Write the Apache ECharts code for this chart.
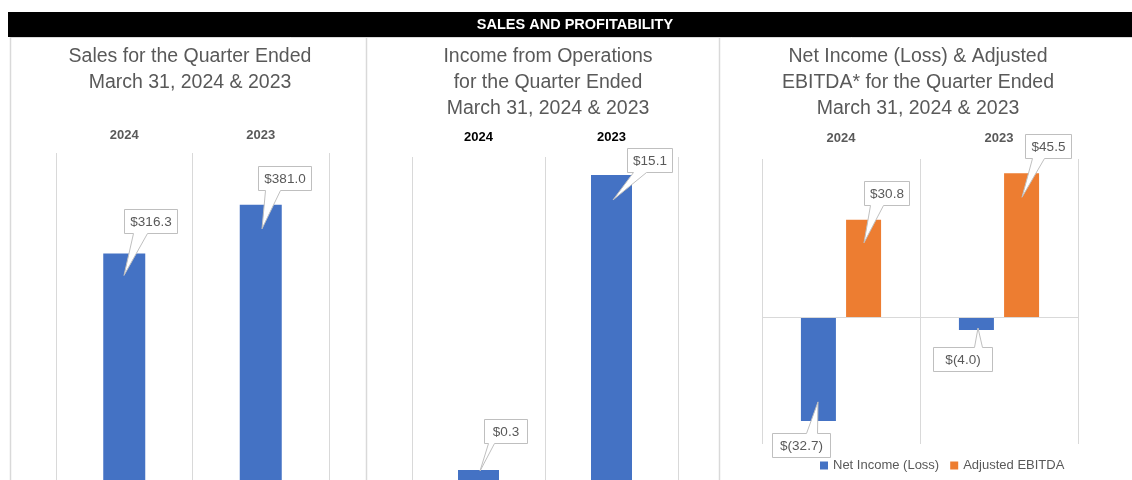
<!doctype html>
<html>
    <head>
        <meta charset="utf-8">
        <title>Sales and Profitability</title>
        <style>
            html, body { margin: 0; padding: 0; background: #fff; }
            #main { width: 1132px; height: 480px; }
        </style>
    </head>
    <body>
        <div id="main"></div>
        <script src="https://cdn.jsdelivr.net/npm/echarts@6/dist/echarts.min.js"></script>
        <script>
            // values (in $ millions)
            var years = ['2024', '2023'];
            var sales = [316.3, 381.0];
            var incomeOps = [0.3, 15.1];
            var netIncome = [-32.7, -4.0];
            var adjEbitda = [30.8, 45.5];

            var FONT = '"Liberation Sans", Arial, sans-serif';
            var GRAY = '#595959';
            var GRID_LINE = '#d9d9d9';

            // hand placed callout boxes, like the excel ones
            // tx/tin: tip of the wedge, bx: box left from bar centre, gap: box to bar end,
            // w: box width, b0/b1: wedge base on the box edge
            var salesCallouts = [
                { tx: 0, tin: 22, bx: 0, gap: 20, w: 53, b0: 9, b1: 23 },
                { tx: 1, tin: 24, bx: -3, gap: 15, w: 53, b0: 7, b1: 22 }
            ];
            var opsCallouts = [
                { tx: 1, tin: 1, bx: 5, gap: 27, w: 43, b0: 4, b1: 10 },
                { tx: 1, tin: 25, bx: 15, gap: 3, w: 45, b0: 6, b1: 19 }
            ];
            var netCallouts = [
                { tx: -1, tin: 19, bx: -47, gap: 12, w: 58, b0: 34, b1: 45 },
                { tx: 1, tin: 2, bx: -44, gap: 17, w: 59, b0: 41, b1: 49 }
            ];
            var ebitdaCallouts = [
                { tx: 0, tin: 23, bx: 0, gap: 15, w: 45, b0: 6, b1: 19 },
                { tx: 0, tin: 24, bx: 3, gap: 15, w: 46, b0: 7, b1: 19 }
            ];

            function money(v) {
                return v < 0 ? '$(' + Math.abs(v).toFixed(1) + ')' : '$' + v.toFixed(1);
            }

            function calloutSeries(gridIdx, values, shift, layout) {
                return {
                    type: 'custom',
                    xAxisIndex: gridIdx,
                    yAxisIndex: gridIdx,
                    clip: false,
                    silent: true,
                    z: 5,
                    data: values.map(function (v, i) { return [i, v]; }),
                    renderItem: function (params, api) {
                        var v = api.value(1);
                        var p = api.coord([api.value(0), v]);
                        var L = layout[params.dataIndex];
                        var h = 24;
                        var x = Math.round(p[0] + shift);
                        var y = p[1];
                        var tip = [x + L.tx, v >= 0 ? y + L.tin : y - L.tin];
                        var bx = x + L.bx + 0.5;
                        var by = Math.round(v >= 0 ? y - L.gap - h : y + L.gap) + 0.5;
                        var pts;
                        if (v >= 0) {
                            pts = [[bx, by], [bx + L.w, by], [bx + L.w, by + h], [bx + L.b1, by + h],
                                tip, [bx + L.b0, by + h], [bx, by + h]];
                        } else {
                            pts = [[bx, by], [bx + L.b0, by], tip, [bx + L.b1, by],
                                [bx + L.w, by], [bx + L.w, by + h], [bx, by + h]];
                        }
                        return {
                            type: 'group',
                            children: [{
                                type: 'polygon',
                                shape: { points: pts },
                                style: { fill: '#fff', stroke: '#bfbfbf', lineWidth: 1 }
                            }, {
                                type: 'text',
                                x: bx + L.w / 2,
                                y: by + h / 2 + 1,
                                style: {
                                    text: money(v),
                                    fill: GRAY,
                                    font: '13.5px ' + FONT,
                                    align: 'center',
                                    verticalAlign: 'middle'
                                }
                            }]
                        };
                    }
                };
            }

            function catAxis(gridIdx, labelColor, margin) {
                return {
                    type: 'category',
                    gridIndex: gridIdx,
                    position: 'top',
                    data: years,
                    axisLine: { show: false },
                    axisTick: { show: false },
                    splitLine: { show: true, lineStyle: { color: GRID_LINE, width: 1 } },
                    axisLabel: {
                        margin: margin,
                        color: labelColor,
                        fontWeight: 'bold',
                        fontSize: 13,
                        fontFamily: FONT
                    }
                };
            }

            function panelTitle(text, cx) {
                return {
                    text: text,
                    left: cx,
                    top: 44,
                    padding: 0,
                    textAlign: 'center',
                    textStyle: {
                        fontSize: 19.5,
                        fontWeight: 'normal',
                        color: GRAY,
                        fontFamily: FONT,
                        lineHeight: 26
                    }
                };
            }

            var chart = echarts.init(document.getElementById('main'), null, {
                devicePixelRatio: 1
            });

            // the first two plots run past the bottom edge of the picture, so their
            // value axes start a little off zero and the grids stop at the edge
            chart.setOption({
                animation: false,
                graphic: [
                    { type: 'rect', shape: { x: 8, y: 12, width: 1124, height: 25 }, style: { fill: '#000' }, z: -10 },
                    { type: 'polyline', shape: { points: [[10.5, 37], [10.5, 480]] }, style: { stroke: GRID_LINE, lineWidth: 1.5 }, z: -10 },
                    { type: 'polyline', shape: { points: [[366.5, 37], [366.5, 480]] }, style: { stroke: GRID_LINE, lineWidth: 1.5 }, z: -10 },
                    { type: 'polyline', shape: { points: [[719.5, 37], [719.5, 480]] }, style: { stroke: GRID_LINE, lineWidth: 1.5 }, z: -10 },
                    { type: 'polyline', shape: { points: [[10, 37.5], [1132, 37.5]] }, style: { stroke: GRID_LINE, lineWidth: 1 }, z: -10 }
                ],
                title: [
                    {
                        text: 'SALES AND PROFITABILITY',
                        left: 575,
                        top: 17,
                        padding: 0,
                        textAlign: 'center',
                        textStyle: { color: '#fff', fontSize: 14.5, fontWeight: 'bold', fontFamily: FONT }
                    },
                    panelTitle('Sales for the Quarter Ended\nMarch 31, 2024 & 2023', 190),
                    panelTitle('Income from Operations\nfor the Quarter Ended\nMarch 31, 2024 & 2023', 548),
                    panelTitle('Net Income (Loss) & Adjusted\nEBITDA* for the Quarter Ended\nMarch 31, 2024 & 2023', 918)
                ],
                legend: {
                    data: ['Net Income (Loss)', 'Adjusted EBITDA'],
                    left: 820,
                    top: 459,
                    padding: 0,
                    icon: 'rect',
                    itemWidth: 8,
                    itemHeight: 8,
                    itemGap: 11,
                    textStyle: { color: GRAY, fontSize: 13, fontFamily: FONT }
                },
                grid: [
                    { left: 56, top: 153, width: 273, height: 327 },
                    { left: 412, top: 157, width: 266, height: 323 },
                    { left: 762, top: 159, width: 316, height: 285 }
                ],
                xAxis: [
                    catAxis(0, GRAY, 11),
                    catAxis(1, '#000', 13),
                    catAxis(2, GRAY, 14)
                ],
                yAxis: [
                    { type: 'value', gridIndex: 0, min: 14.6, max: 450, startValue: 14.6, show: false, splitLine: { show: false } },
                    { type: 'value', gridIndex: 1, min: -0.2, max: 16, startValue: -0.2, show: false, splitLine: { show: false } },
                    { type: 'value', gridIndex: 2, min: -40, max: 50, interval: 10, show: false, splitLine: { show: false } }
                ],
                series: [
                    {
                        name: 'Sales',
                        type: 'bar',
                        xAxisIndex: 0,
                        yAxisIndex: 0,
                        barWidth: 42,
                        itemStyle: { color: '#4472c4' },
                        data: sales
                    },
                    {
                        name: 'Income from Operations',
                        type: 'bar',
                        xAxisIndex: 1,
                        yAxisIndex: 1,
                        barWidth: 41,
                        itemStyle: { color: '#4472c4' },
                        data: incomeOps
                    },
                    {
                        name: 'Net Income (Loss)',
                        type: 'bar',
                        xAxisIndex: 2,
                        yAxisIndex: 2,
                        barWidth: 35,
                        barGap: '29%',
                        itemStyle: { color: '#4472c4' },
                        data: netIncome,
                        markLine: {
                            silent: true,
                            symbol: 'none',
                            label: { show: false },
                            lineStyle: { color: GRID_LINE, type: 'solid', width: 1 },
                            data: [{ yAxis: 0 }]
                        }
                    },
                    {
                        name: 'Adjusted EBITDA',
                        type: 'bar',
                        xAxisIndex: 2,
                        yAxisIndex: 2,
                        barWidth: 35,
                        barGap: '29%',
                        itemStyle: { color: '#ed7d31' },
                        data: adjEbitda
                    },
                    calloutSeries(0, sales, 0, salesCallouts),
                    calloutSeries(1, incomeOps, 0, opsCallouts),
                    calloutSeries(2, netIncome, -22.5, netCallouts),
                    calloutSeries(2, adjEbitda, 22.5, ebitdaCallouts)
                ]
            });

            window.onresize = chart.resize;
        </script>
    </body>
</html>
